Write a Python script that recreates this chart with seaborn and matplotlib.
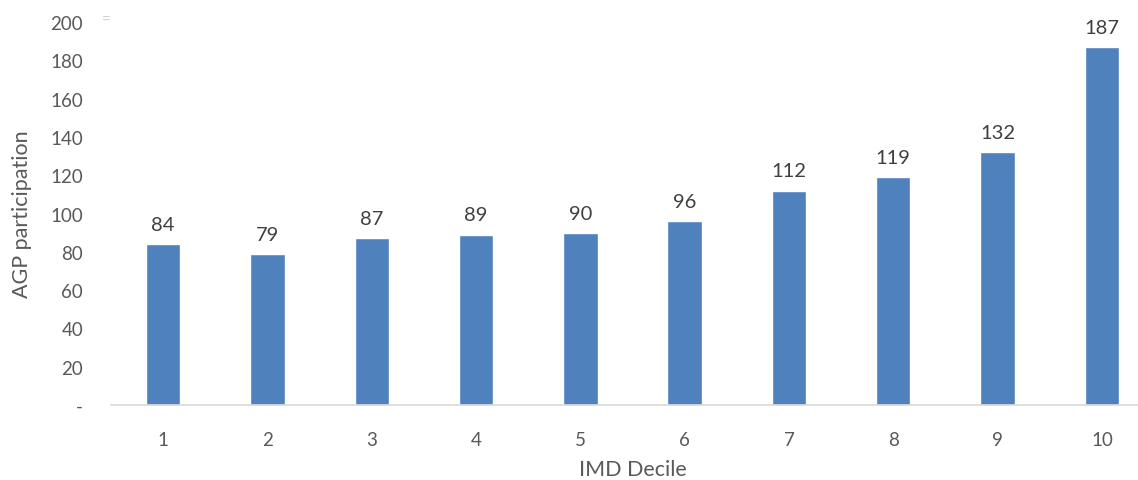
import matplotlib
matplotlib.use("Agg")
import matplotlib.pyplot as plt
import seaborn as sns
import pandas as pd

deciles = ["1", "2", "3", "4", "5", "6", "7", "8", "9", "10"]
participation = [84, 79, 87, 89, 90, 96, 112, 119, 132, 187]
y_ticks = [0, 20, 40, 60, 80, 100, 120, 140, 160, 180, 200]
y_tick_labels = ["-", "20", "40", "60", "80", "100", "120", "140", "160", "180", "200"]

sns.set_style("white")
plt.rcParams["font.family"] = ["Lato", "DejaVu Sans"]

text_color = "#595959"
bar_color = "#4F81BD"

df = pd.DataFrame({"decile": deciles, "value": participation})

fig = plt.figure(figsize=(11.38, 4.81), dpi=100)
# plot area runs slightly past the right edge of the canvas
ax = fig.add_axes([0.0975, 0.156, 0.9166, 0.796])

sns.barplot(data=df, x="decile", y="value", order=deciles, color=bar_color,
            saturation=1, width=0.33, ax=ax)

ax.set_ylim(0, 200)
ax.set_xlim(-0.5, len(deciles) - 0.5)
ax.set_yticks(y_ticks)
ax.set_yticklabels(y_tick_labels)

for c in ax.containers:
    ax.bar_label(c, labels=[str(v) for v in participation], padding=8,
                 fontsize=14.5, color="#404040")

for s in ["top", "right", "left"]:
    ax.spines[s].set_visible(False)
ax.spines["bottom"].set_color("#D9D9D9")
ax.spines["bottom"].set_linewidth(1.2)

ax.tick_params(axis="both", length=0, labelsize=13.5, colors=text_color)
ax.tick_params(axis="x", pad=19)
ax.tick_params(axis="y", pad=20)

ax.set_xlabel("IMD Decile", fontsize=15.5, color=text_color, labelpad=8)
ax.set_ylabel("AGP participation", fontsize=15.5, color=text_color, labelpad=13)

# small legend key remnant near the top-left corner
fig.text(106 / 1138, 1 - 21 / 481, "=", fontsize=11, color="#D0D0D0",
         ha="center", va="center")

fig.savefig("out.png", dpi=100)
